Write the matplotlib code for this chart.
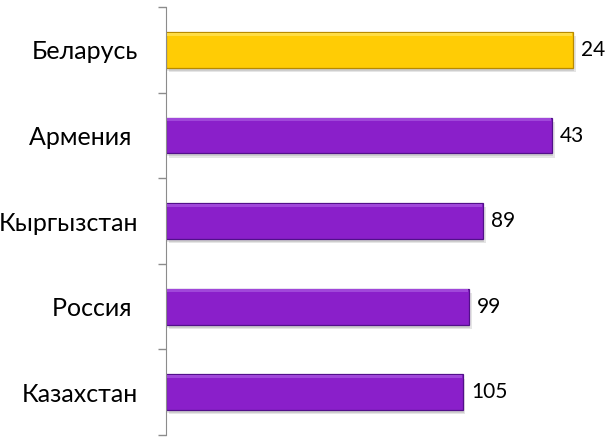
import matplotlib.pyplot as plt
import numpy as np

# categories top to bottom, bar lengths (score) and the rank printed at the bar end
countries = ["Беларусь", "Армения ", "Кыргызстан", "Россия ", "Казахстан"]
scores = [92.3, 87.5, 71.9, 68.7, 67.3]
ranks = ["24", "43", "89", "99", "105"]
highlight = "Беларусь"

plt.rcParams["font.family"] = ["Lato", "DejaVu Sans"]

fig = plt.figure(figsize=(6.07, 4.48), dpi=100)
ax = fig.add_axes([0.2735, 0.029, 0.7265, 0.955])

y = np.arange(len(countries))
h = 0.42
fills = ["#FFCC05" if c == highlight else "#8A1FCA" for c in countries]
edges = ["#B88A00" if c == highlight else "#52108A" for c in countries]
tops = ["#FFDD45" if c == highlight else "#A047DA" for c in countries]

# soft drop shadow
ax.barh(y + 0.05, scores, height=h, left=0.6, color="#000000", alpha=0.10, zorder=1)
ax.barh(y + 0.035, scores, height=h, left=0.3, color="#000000", alpha=0.10, zorder=1)
# main bars
ax.barh(y, scores, height=h, color=fills, edgecolor=edges, linewidth=0.9, zorder=2)
# bevel highlight along the top
ax.barh(y - h / 2 + 0.025, [s - 0.4 for s in scores], left=0.2, height=0.035,
        color=tops, linewidth=0, zorder=3)

for yi, s, r in zip(y, scores, ranks):
    ax.text(s + 1.9, yi, r, va="center", ha="left", fontsize=15, color="black", zorder=4)

ax.set_xlim(0, 100)
ax.set_ylim(len(countries) - 0.5, -0.5)

ax.set_yticks(np.arange(-0.5, len(countries)), labels=[])
ax.set_yticks(y, labels=countries, minor=True)
ax.tick_params(axis="y", which="major", direction="out", length=6, color="#8C8C8C", width=1)
ax.tick_params(axis="y", which="minor", length=0, pad=20, labelsize=18)
ax.set_xticks([])

for side in ["top", "right", "bottom"]:
    ax.spines[side].set_visible(False)
ax.spines["left"].set_color("#8C8C8C")

fig.savefig("out.png", dpi=100)
